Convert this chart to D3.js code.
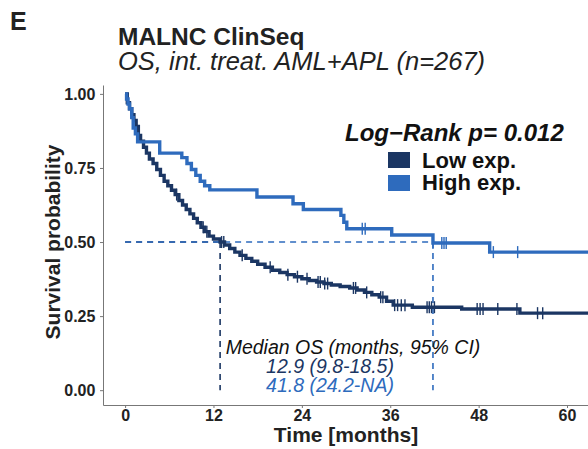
<!DOCTYPE html>
<html>
<head>
<meta charset="utf-8">
<script src="https://cdn.jsdelivr.net/npm/d3@7"></script>
<style>
  body { margin: 0; background: #fff; }
  text { font-family: Arial, "Liberation Sans", Helvetica, sans-serif; }
</style>
</head>
<body>
<div id="chart"></div>
<script>
// Kaplan-Meier steps: [time in months, survival]
const lowSteps = [
  [0,1.0],[0.3,0.97],[0.6,0.95],[0.9,0.93],[1.2,0.91],[1.5,0.89],[1.8,0.86],[2.1,0.84],
  [2.5,0.82],[2.9,0.80],[3.3,0.78],[3.8,0.765],[4.3,0.745],[4.8,0.725],[5.3,0.705],
  [5.8,0.69],[6.3,0.675],[6.8,0.66],[7.3,0.64],[7.8,0.625],[8.3,0.61],[8.8,0.595],
  [9.3,0.58],[9.8,0.565],[10.3,0.55],[10.8,0.535],[11.4,0.52],[12.0,0.51],[12.9,0.50],
  [13.5,0.49],[14.2,0.478],[14.9,0.466],[15.6,0.455],[16.4,0.445],[17.2,0.435],
  [18.0,0.425],[19.0,0.415],[20.0,0.405],[21.0,0.397],[22.0,0.39],[23.0,0.383],
  [24.0,0.376],[25.0,0.37],[26.0,0.365],[27.0,0.36],[28.0,0.355],[29.2,0.35],
  [30.5,0.345],[31.5,0.338],[32.5,0.33],[33.5,0.322],[34.5,0.314],[35.5,0.30],
  [36.4,0.287],[39.0,0.28],[45.7,0.274],[53.6,0.26]
];
const highSteps = [
  [0,1.0],[0.2,0.983],[0.4,0.966],[0.6,0.95],[0.9,0.92],[1.1,0.885],[1.4,0.865],
  [1.7,0.838],[4.7,0.80],[7.7,0.785],[8.4,0.765],[9.0,0.745],[9.6,0.725],[10.2,0.705],
  [10.8,0.69],[11.5,0.676],[17.9,0.652],[22.8,0.629],[24.2,0.61],[29.3,0.59],
  [29.7,0.567],[30.1,0.545],[36.2,0.524],[41.8,0.497],[49.5,0.466]
];
const lowCensor = [7,10.6,11.1,13.1,13.4,15.9,19.7,22.1,23.4,24.7,26.2,26.5,27.1,27.5,
  31.0,31.3,32.8,34.7,35.0,36.6,37.0,37.5,38.0,41.0,41.3,41.6,42.0,47.8,48.2,48.6,
  50.6,53.2,56.0,56.7];
const highCensor = [32.2,32.6,41.8,43.0,43.3,43.6,50.0,53.3];
const lastTime = 63;

const medians = [12.9, 41.8];
const groupNames = ["Low exp.", "High exp."];
const medianLabels = ["12.9 (9.8-18.5)", "41.8 (24.2-NA)"];
const colors = ["#1b3663", "#2e6bbd"];
const xTicks = [0, 12, 24, 36, 48, 60];
const yTicks = [0, 0.25, 0.5, 0.75, 1];

const W = 588, H = 449;
const svg = d3.select("#chart").append("svg")
  .attr("width", W).attr("height", H);

const x = d3.scaleLinear().domain([-3, 62.85]).range([103, 588]);
const y = d3.scaleLinear().domain([-0.05, 1.03]).range([405, 85]);

// clip
svg.append("clipPath").attr("id", "clip")
  .append("rect").attr("x", 103).attr("y", 80).attr("width", W - 103).attr("height", 326);

// titles
svg.append("text").attr("x", 10).attr("y", 30)
  .attr("font-size", 25).attr("font-weight", "bold").attr("fill", "#222").text("E");
svg.append("text").attr("x", 118).attr("y", 45)
  .attr("font-size", 24.5).attr("font-weight", "bold").attr("fill", "#222").text("MALNC ClinSeq");
svg.append("text").attr("x", 118).attr("y", 70)
  .attr("font-size", 25.5).attr("font-style", "italic").attr("fill", "#222")
  .text("OS, int. treat. AML+APL (n=267)");

// axes
const xAxis = svg.append("g").attr("transform", "translate(0,405)")
  .call(d3.axisBottom(x).tickValues(xTicks).tickSize(3).tickSizeOuter(0));
const yAxis = svg.append("g").attr("transform", "translate(103,0)")
  .call(d3.axisLeft(y).tickValues(yTicks).tickSize(3).tickSizeOuter(0)
    .tickFormat(d3.format(".2f")));
[xAxis, yAxis].forEach(g => {
  g.select(".domain").attr("stroke", "#777");
  g.selectAll(".tick line").attr("stroke", "#777");
  g.selectAll(".tick text").attr("font-size", 16).attr("font-weight", "bold")
    .attr("fill", "#222").style("font-family", "Arial, 'Liberation Sans', sans-serif");
});
yAxis.selectAll(".tick text").attr("dx", "-0.1em");
xAxis.selectAll(".tick text").attr("y", 5);

svg.append("text").attr("x", 346).attr("y", 442).attr("text-anchor", "middle")
  .attr("font-size", 21).attr("font-weight", "bold").attr("fill", "#222").text("Time [months]");
svg.append("text").attr("transform", "translate(60,242) rotate(-90)")
  .attr("text-anchor", "middle").attr("font-size", 21).attr("font-weight", "bold")
  .attr("fill", "#222").text("Survival probability");

const plot = svg.append("g").attr("clip-path", "url(#clip)");

// median lines
medians.forEach((m, i) => {
  plot.append("line").attr("x1", x(0)).attr("x2", x(m)).attr("y1", y(0.5)).attr("y2", y(0.5))
    .attr("stroke", colors[i]).attr("stroke-width", 1.6).attr("stroke-dasharray", "6,5");
  plot.append("line").attr("x1", x(m)).attr("x2", x(m)).attr("y1", y(0.5)).attr("y2", y(0))
    .attr("stroke", colors[i]).attr("stroke-width", 1.6).attr("stroke-dasharray", "6,5");
});

// curves
const line = d3.line().x(d => x(d[0])).y(d => y(d[1])).curve(d3.curveStepAfter);
function survAt(steps, t) {
  let s = 1;
  steps.forEach(d => { if (d[0] <= t) s = d[1]; });
  return s;
}
[[lowSteps, lowCensor], [highSteps, highCensor]].forEach(([steps, cens], i) => {
  const pts = steps.concat([[lastTime, steps[steps.length - 1][1]]]);
  plot.append("path").datum(pts).attr("d", line)
    .attr("fill", "none").attr("stroke", colors[i]).attr("stroke-width", 3.4);
  plot.selectAll(null).data(cens).enter().append("line")
    .attr("x1", d => x(d)).attr("x2", d => x(d))
    .attr("y1", d => y(survAt(steps, d)) - 6).attr("y2", d => y(survAt(steps, d)) + 6)
    .attr("stroke", colors[i]).attr("stroke-width", 1.4);
});

// legend
svg.append("text").attr("x", 345).attr("y", 141)
  .attr("font-size", 24).attr("font-weight", "bold").attr("font-style", "italic")
  .attr("fill", "#111").text("Log\u2212Rank p= 0.012");
groupNames.forEach((g, i) => {
  svg.append("rect").attr("x", 388).attr("y", 152 + i * 23).attr("width", 22).attr("height", 16)
    .attr("fill", colors[i]);
  svg.append("text").attr("x", 422).attr("y", 168 + i * 22)
    .attr("font-size", 22).attr("font-weight", "bold").attr("fill", "#111").text(g);
});

// median annotation
svg.append("text").attr("x", 353).attr("y", 354).attr("text-anchor", "middle")
  .attr("font-size", 19.5).attr("font-style", "italic").attr("fill", "#111")
  .text("Median OS (months, 95% CI)");
medianLabels.forEach((t, i) => {
  svg.append("text").attr("x", 330).attr("y", 373 + i * 19).attr("text-anchor", "middle")
    .attr("font-size", 19.5).attr("font-style", "italic").attr("fill", colors[i]).text(t);
});
</script>
</body>
</html>
